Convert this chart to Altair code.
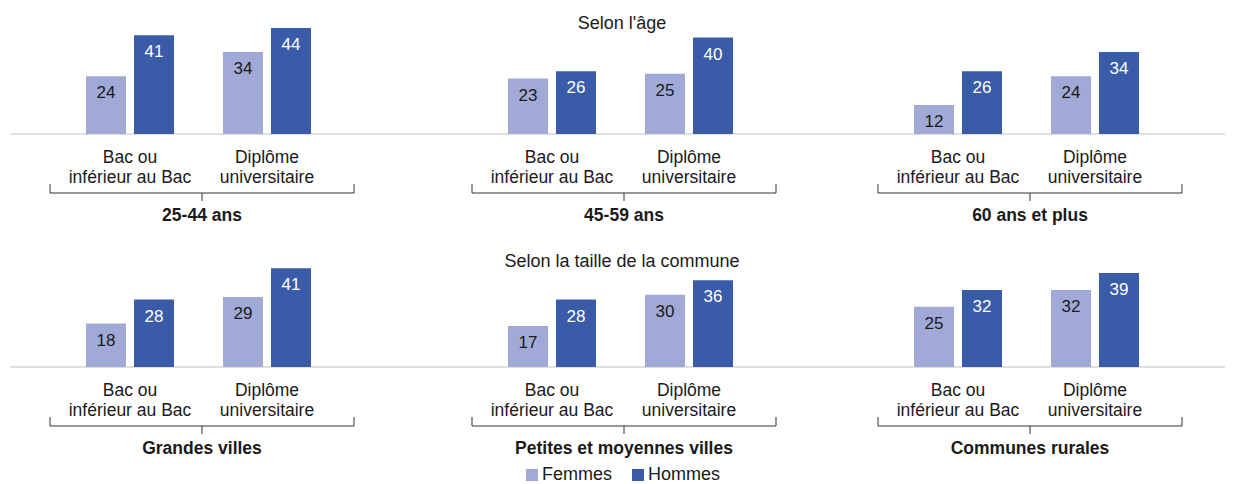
import altair as alt
import pandas as pd

# ---------------- data ----------------
panels = ["25-44 ans", "45-59 ans", "60 ans et plus",
          "Grandes villes", "Petites et moyennes villes", "Communes rurales"]
row_titles = ["Selon l'âge", "Selon la taille de la commune"]
education = ["Bac ou inférieur au Bac", "Diplôme universitaire"]
education_labels = ["Bac ou\ninférieur au Bac", "Diplôme\nuniversitaire"]
sexes = ["Femmes", "Hommes"]
femmes_bac = [24, 23, 12, 18, 17, 25]
hommes_bac = [41, 26, 26, 28, 28, 32]
femmes_dip = [34, 25, 24, 29, 30, 32]
hommes_dip = [44, 40, 34, 41, 36, 39]

colors = ["#a1a9d6", "#3a5ca8"]
FONT = "Liberation Sans"

rows = []
for i, p in enumerate(panels):
    for edu, fv, hv in [(education[0], femmes_bac[i], hommes_bac[i]),
                        (education[1], femmes_dip[i], hommes_dip[i])]:
        rows.append({"panel": p, "edu": edu, "sexe": "Femmes", "value": fv})
        rows.append({"panel": p, "edu": edu, "sexe": "Hommes", "value": hv})
df = pd.DataFrame(rows)
labels_df = pd.DataFrame({"edu": education, "label": education_labels})
one = pd.DataFrame({"k": [0]})

# ---------------- geometry ----------------
H = 233          # row height
BASE = 126       # baseline position inside a row
PX = 2.41        # pixels per percentage point
ydom = [-(H - BASE) / PX, BASE / PX]
widths = [422, 406, 389]
title_y = [21, 26]


def panel(i):
    col = i % 3
    row = i // 3
    w = widths[col]
    base = alt.Chart(df).transform_filter(alt.datum.panel == panels[i])
    x = alt.X("edu:N", sort=education, axis=None,
              scale=alt.Scale(range=[78, 303], paddingInner=0.3577, paddingOuter=0))
    xo = alt.XOffset("sexe:N", sort=sexes,
                     scale=alt.Scale(paddingInner=8 / 48, paddingOuter=0))
    y = alt.Y("value:Q", axis=None,
              scale=alt.Scale(domain=ydom, nice=False, zero=False))
    color = alt.Color("sexe:N", sort=sexes,
                      scale=alt.Scale(domain=sexes, range=colors),
                      legend=alt.Legend(title=None, orient="none", direction="horizontal",
                                        legendX=515, legendY=458,
                                        symbolType="square", symbolSize=144,
                                        symbolStrokeWidth=0, symbolOpacity=1,
                                        labelFontSize=18, labelFont=FONT,
                                        labelColor="#1a1a1a", labelOffset=1,
                                        columnPadding=16, padding=0))

    # light grey baseline drawn as a thin filled rect (no stroke -> exact bounds,
    # so neighbouring panels join seamlessly)
    baseline = alt.Chart(one).mark_rect(color="#d6d6d6", strokeWidth=0).encode(
        x=alt.value(2 if col == 0 else 0), x2=alt.value(w),
        y=alt.value(BASE - 0.75), y2=alt.value(BASE + 0.75))

    bars = base.mark_bar().encode(x=x, xOffset=xo, y=y, y2=alt.datum(0), color=color)

    vals = base.mark_text(baseline="alphabetic", dy=22, fontSize=17, font=FONT).encode(
        x=x, xOffset=xo, y=y, text="value:Q",
        color=alt.condition(alt.datum.sexe == "Hommes", alt.value("#ffffff"), alt.value("#1a1a1a")))

    cats = alt.Chart(labels_df).mark_text(
        lineBreak="\n", lineHeight=19.5, fontSize=17.5, font=FONT,
        baseline="alphabetic", color="#1a1a1a").encode(
        x=x, y=alt.value(BASE + 29), text="label:N")

    bl, br_, bc = 42, 346, 194
    by = BASE + 59
    br_h = alt.Chart(one).mark_rule(color="#333333", strokeWidth=1).encode(
        x=alt.value(bl), x2=alt.value(br_), y=alt.value(by))
    br_l = alt.Chart(one).mark_rule(color="#333333", strokeWidth=1).encode(
        x=alt.value(bl), y=alt.value(BASE + 50), y2=alt.value(by))
    br_r = alt.Chart(one).mark_rule(color="#333333", strokeWidth=1).encode(
        x=alt.value(br_), y=alt.value(BASE + 50), y2=alt.value(by))
    br_c = alt.Chart(one).mark_rule(color="#333333", strokeWidth=1).encode(
        x=alt.value(bc), y=alt.value(by), y2=alt.value(BASE + 67))

    glabel = alt.Chart(pd.DataFrame({"panel": [panels[i]]})).mark_text(
        fontSize=17.5, fontWeight="bold", font=FONT, baseline="alphabetic",
        color="#1a1a1a").encode(x=alt.value(bc), y=alt.value(BASE + 87), text="panel:N")

    layers = [baseline, bars, vals, cats, br_h, br_l, br_r, br_c, glabel]
    if col == 1:
        t = alt.Chart(pd.DataFrame({"t": [row_titles[row]]})).mark_text(
            fontSize=18, font=FONT, baseline="alphabetic", color="#1a1a1a").encode(
            x=alt.value(192), y=alt.value(title_y[row]), text="t:N")
        layers.append(t)
    return alt.layer(*layers).properties(width=w, height=H)


row1 = alt.hconcat(panel(0), panel(1), panel(2), spacing=0)
row2 = alt.hconcat(panel(3), panel(4), panel(5), spacing=0)
chart = alt.vconcat(row1, row2, spacing=0).properties(padding=0).configure(
    font=FONT, view=alt.ViewConfig(stroke=None),
    concat=alt.CompositionConfig(spacing=0))

chart.save("out.html", embed_options={"renderer": "svg", "actions": False})
